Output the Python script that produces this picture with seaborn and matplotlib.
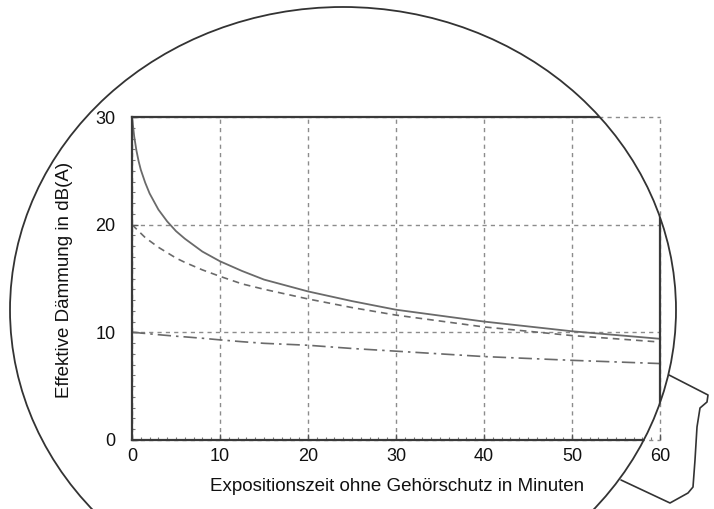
import matplotlib
matplotlib.use("Agg")
import matplotlib.pyplot as plt
from matplotlib.patches import Ellipse
from matplotlib.lines import Line2D
from matplotlib.ticker import MultipleLocator
import seaborn as sns
import pandas as pd

# exposure time without hearing protection (minutes)
minutes = [0, 0.25, 0.5, 0.75, 1, 1.5, 2, 3, 4, 5, 6, 8, 10, 12.5, 15, 20, 25,
           30, 40, 50, 60]
# effective attenuation for protectors of 30, 20 and 10 dB nominal attenuation
att_30 = [30, 28.2, 26.9, 25.9, 25.1, 23.9, 22.9, 21.4, 20.3, 19.4, 18.7, 17.5,
          16.6, 15.7, 14.9, 13.8, 12.9, 12.1, 11.0, 10.1, 9.4]
att_20 = [20, 19.8, 19.6, 19.4, 19.2, 18.8, 18.5, 17.9, 17.4, 16.9, 16.5, 15.8,
          15.2, 14.5, 14.0, 13.1, 12.3, 11.6, 10.5, 9.7, 9.1]
att_10 = [10, 9.99, 9.97, 9.96, 9.93, 9.9, 9.86, 9.78, 9.71, 9.64, 9.58, 9.45,
          9.3, 9.13, 8.98, 8.8, 8.5, 8.25, 7.75, 7.4, 7.1]

x_ticks = [0, 10, 20, 30, 40, 50, 60]
y_ticks = [0, 10, 20, 30]
x_label = "Expositionszeit ohne Gehörschutz in Minuten"
y_label = "Effektive Dämmung in dB(A)"

sns.set_style("white")
plt.rcParams["font.family"] = ["Liberation Sans", "DejaVu Sans"]

W, H = 714, 509
fig = plt.figure(figsize=(W / 100, H / 100), dpi=100)
fig.patch.set_facecolor("white")
ax = fig.add_axes([132 / W, 1 - 440 / H, 528 / W, 323 / H])
ax.set_facecolor("white")

df = pd.DataFrame({"t": minutes, "a30": att_30, "a20": att_20, "a10": att_10})
curve_col = "#6a6a6a"
sns.lineplot(data=df, x="t", y="a30", ax=ax, color=curve_col, lw=1.3, zorder=4)
sns.lineplot(data=df, x="t", y="a20", ax=ax, color=curve_col, lw=1.2,
             dashes=(4, 3), zorder=4)
sns.lineplot(data=df, x="t", y="a10", ax=ax, color=curve_col, lw=1.2,
             dashes=(8, 3, 1.5, 3), zorder=4)

ax.set_xlim(0, 60)
ax.set_ylim(0, 30)
ax.set_xticks(x_ticks)
ax.set_yticks(y_ticks)
ax.xaxis.set_minor_locator(MultipleLocator(1))
ax.yaxis.set_minor_locator(MultipleLocator(1))
ax.tick_params(bottom=True, left=True, top=False, right=False, which="both")
ax.tick_params(which="major", direction="in", length=4, width=1.0,
               color="#555555", labelsize=13, labelcolor="#111111", pad=6)
ax.tick_params(which="minor", direction="in", length=2.5, width=0.8,
               color="#777777")
ax.tick_params(axis="y", which="major", pad=12)

ax.grid(True, which="major", color="#8c8c8c", lw=1.0, ls=(0, (3, 3)),
        clip_on=False)
ax.set_axisbelow(True)

ax.set_xlabel(x_label, fontsize=13.5, color="#111111")
ax.set_ylabel(y_label, fontsize=13.5, color="#111111")
ax.xaxis.set_label_coords(0.502, -0.118)
ax.yaxis.set_label_coords(-0.112, 0.495)

# magnifier lens outline
lens = Ellipse((343 / W, 1 - 310 / H), 666 / W, 606 / H, transform=fig.transFigure,
               fill=False, edgecolor="#333333", lw=1.3, zorder=10)
fig.add_artist(lens)

# frame drawn solid only where it lies inside the lens
for side in ["left", "right", "top", "bottom"]:
    sp = ax.spines[side]
    sp.set_visible(True)
    sp.set_color("#3a3a3a")
    sp.set_linewidth(1.6)
    sp.set_clip_path(lens)
    sp.set_zorder(6)

# lens handle
hx = [669, 708, 707, 700, 697, 695, 693, 688, 670, 621]
hy = [375, 395, 402, 408, 427, 460, 487, 493, 503, 480]
handle = Line2D([v / W for v in hx], [1 - v / H for v in hy],
                transform=fig.transFigure, color="#333333", lw=1.2)
fig.add_artist(handle)

fig.savefig("out.png", dpi=100)
